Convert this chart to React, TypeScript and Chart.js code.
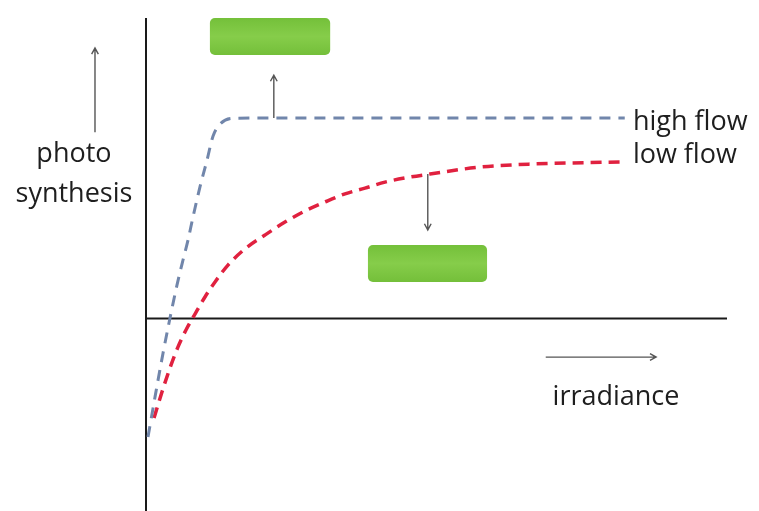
import React, { useEffect, useRef } from "react";
import { Chart, registerables } from "chart.js";

Chart.register(...registerables);

// Conceptual curves (irradiance units vs photosynthesis units)
const highFlowX = [0.34, 1.55, 2.93, 4.13, 5.34, 6.37, 7.23, 8.09, 9.29, 10.5, 11.53, 12.74, 14.97, 19.6, 82.4];
const highFlowY = [-39.4, -26.1, -11.5, 0.2, 11.2, 19.5, 26.1, 33.8, 43.8, 52.7, 60.7, 64.7, 66.6, 66.7, 66.7];
const lowFlowX = [1.38, 2.75, 4.13, 5.51, 6.88, 8.43, 10.15, 11.88, 14.11, 17.04, 20.48, 23.92, 27.37, 30.81, 34.25, 37.69, 41.14, 44.58, 48.88, 57.49, 66.09, 81.58];
const lowFlowY = [-33.1, -24.4, -16.4, -9.4, -3.8, 1.5, 7.2, 12.2, 17.8, 23.2, 27.8, 32.1, 35.8, 38.8, 41.5, 43.4, 45.4, 46.8, 48.1, 50.4, 51.4, 52.1];

const seriesLabels = ["high flow", "low flow"];
const yAxisLabel = ["photo", "synthesis"];
const xAxisLabel = "irradiance";

const X_MIN = 0, X_MAX = 100, Y_MIN = -64, Y_MAX = 100;

const FONT = "'Open Sans', Lato, sans-serif";

export default function App() {
  const ref = useRef<HTMLCanvasElement | null>(null);
  useEffect(() => {
    document.body.style.margin = "0";
    document.body.style.background = "#ffffff";
    const canvas = ref.current!;
    const overlay = {
      id: "diagram",
      beforeDatasetsDraw(chart: any) {
        const { ctx, scales } = chart;
        const px = (v: number) => scales.x.getPixelForValue(v);
        const py = (v: number) => scales.y.getPixelForValue(v);
        ctx.save();
        ctx.strokeStyle = "#1a1a1a";
        ctx.lineWidth = 2;
        ctx.beginPath();
        ctx.moveTo(px(0), py(Y_MAX));
        ctx.lineTo(px(0), py(Y_MIN));
        ctx.moveTo(px(0), py(0));
        ctx.lineTo(px(X_MAX), py(0));
        ctx.stroke();
        ctx.restore();
      },
      afterDatasetsDraw(chart: any) {
        const { ctx, scales } = chart;
        const px = (v: number) => scales.x.getPixelForValue(v);
        const py = (v: number) => scales.y.getPixelForValue(v);
        ctx.save();
        // green boxes
        const box = (x0: number, y0: number, x1: number, y1: number) => {
          const a = px(x0), b = py(y0), c = px(x1), d = py(y1);
          const g = ctx.createLinearGradient(0, b, 0, d);
          g.addColorStop(0, "#74c03a");
          g.addColorStop(0.5, "#86cd4a");
          g.addColorStop(1, "#74bf3a");
          ctx.fillStyle = g;
          ctx.beginPath();
          (ctx as any).roundRect(a, b, c - a, d - b, 5);
          ctx.fill();
        };
        box(11.0, 100, 31.7, 87.7);
        box(38.2, 24.5, 58.7, 12.2);
        // arrows
        const arrow = (x0: number, y0: number, x1: number, y1: number) => {
          const a = px(x0), b = py(y0), c = px(x1), d = py(y1);
          ctx.strokeStyle = "#555";
          ctx.lineWidth = 1.4;
          ctx.beginPath();
          ctx.moveTo(a, b);
          ctx.lineTo(c, d);
          const ang = Math.atan2(d - b, c - a);
          const h = 7;
          ctx.moveTo(c - h * Math.cos(ang - 0.5), d - h * Math.sin(ang - 0.5));
          ctx.lineTo(c, d);
          ctx.lineTo(c - h * Math.cos(ang + 0.5), d - h * Math.sin(ang + 0.5));
          ctx.stroke();
        };
        arrow(-8.78, 62.0, -8.78, 90.0);
        arrow(22.0, 66.7, 22.0, 81.0);
        arrow(48.5, 48.1, 48.5, 29.5);
        arrow(68.8, -12.8, 87.8, -12.8);
        // texts
        ctx.fillStyle = "#1e1e1e";
        ctx.font = `27px ${FONT}`;
        ctx.textBaseline = "alphabetic";
        ctx.textAlign = "left";
        ctx.fillText(seriesLabels[0], px(83.8), py(62.7));
        ctx.fillText(seriesLabels[1], px(83.8), py(51.8));
        ctx.textAlign = "center";
        ctx.fillText(yAxisLabel[0], px(-12.4), py(52.1));
        ctx.fillText(yAxisLabel[1], px(-12.4), py(38.8));
        ctx.fillText(xAxisLabel, px(80.9), py(-28.7));
        ctx.restore();
      },
    };
    const chart = new Chart(canvas, {
      type: "scatter",
      data: {
        datasets: [
          {
            label: seriesLabels[0],
            data: highFlowX.map((x, i) => ({ x, y: highFlowY[i] })),
            showLine: true,
            borderColor: "#7186ab",
            borderWidth: 3,
            borderDash: [11, 8],
            pointRadius: 0,
            cubicInterpolationMode: "monotone",
            clip: false as any,
          },
          {
            label: seriesLabels[1],
            data: lowFlowX.map((x, i) => ({ x, y: lowFlowY[i] })),
            showLine: true,
            borderColor: "#e0213f",
            borderWidth: 3.5,
            borderDash: [11, 7],
            pointRadius: 0,
            cubicInterpolationMode: "monotone",
            clip: false as any,
          },
        ],
      },
      options: {
        animation: false,
        responsive: true,
        maintainAspectRatio: false,
        layout: { padding: { left: 146, right: 32, top: 18, bottom: 0 } },
        plugins: { legend: { display: false }, tooltip: { enabled: false } },
        scales: {
          x: { type: "linear", min: X_MIN, max: X_MAX, display: false },
          y: { type: "linear", min: Y_MIN, max: Y_MAX, display: false },
        },
      },
      plugins: [overlay],
    });
    return () => chart.destroy();
  }, []);
  return (
    <div style={{ width: 759, height: 511, position: "relative", background: "#fff" }}>
      <canvas ref={ref} />
    </div>
  );
}
